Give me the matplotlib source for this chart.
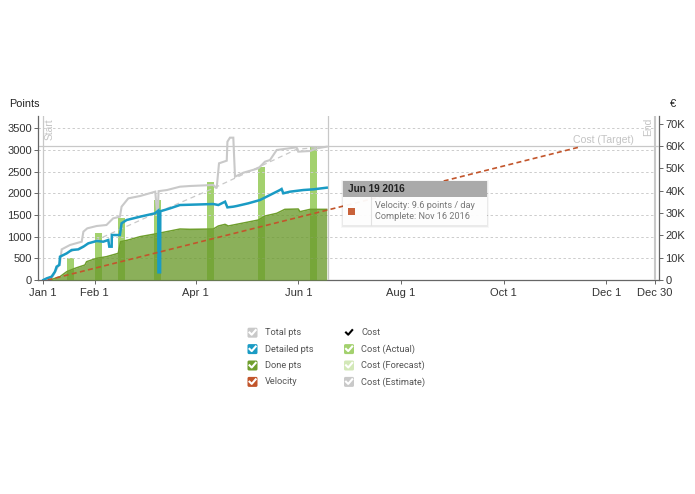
import matplotlib
matplotlib.use("Agg")
import matplotlib.pyplot as plt
from matplotlib.patches import FancyBboxPatch, Rectangle

plt.rcParams["font.family"] = ["Liberation Sans", "DejaVu Sans"]

# x values are days since Jan 1 2016
total_days = [3, 6, 9, 10.4, 11.4, 16.3, 23.3, 24.3, 26.6, 32.2, 38, 40, 42, 46, 47, 51, 58, 67, 68, 68.5, 69, 74,
              81.7, 87.7, 101.5, 103.5, 104.9, 109.5, 109.9, 111.4, 113.4, 114.4, 119.4, 128.3, 132.2, 135.2,
              139.2, 151, 152, 159, 163, 168.9]
total_pts = [0, 77, 300, 400, 707, 807, 884, 1115, 1192, 1246, 1269, 1346, 1423, 1461, 1692, 1884, 1938, 2038, 1600,
             1600, 2050, 2076, 2153, 2169, 2192, 2115, 2692, 2753, 3191, 3284, 3284, 2384, 2476, 2576, 2730, 2768,
             3000, 3061, 2961, 2976, 3038, 3076]

detailed_days = [0.5, 2.5, 5.4, 7.4, 8.4, 10, 10.4, 14.4, 17.3, 21.3, 24.3, 27.2, 32.2, 36.1, 39.1, 39.7, 41.1, 41.2,
                 46, 47, 50, 58, 66.8, 68.8, 68.9, 69.9, 70, 75.8, 81.7, 101.5, 104.5, 108.5, 109.9, 113.4, 115.4,
                 122.3, 129.3, 135.2, 141.1, 142.1, 143.1, 147.1, 155, 161, 168.9]
detailed_pts = [0, 38, 77, 192, 308, 346, 538, 615, 692, 707, 769, 846, 900, 884, 923, 769, 769, 1038, 1038, 1308,
                1384, 1461, 1538, 1600, 177, 177, 1585, 1653, 1730, 1753, 1730, 1807, 1676, 1692, 1707, 1769, 1846,
                1961, 2076, 2100, 2000, 2038, 2076, 2092, 2130]

done_days = [4.5, 10.4, 14.4, 19.3, 25.2, 26.2, 32.2, 38, 45, 46.4, 51, 58, 66.8, 73.8, 81.7, 87.7, 101.5, 104.5,
             108.5, 110.4, 121.3, 128.3, 132.2, 139.2, 144, 152, 153, 159, 168.9]
done_pts = [0, 77, 192, 269, 346, 423, 500, 538, 615, 884, 923, 1000, 1061, 1115, 1176, 1169, 1176, 1246, 1284, 1246,
            1330, 1384, 1476, 1538, 1630, 1638, 1576, 1630, 1630]

velocity_days = [3, 320]
velocity_pts = [0, 3076]

estimate_days = [12, 68, 101.5, 151, 168.9]
estimate_pts = [570, 1553, 2115, 3015, 3076]

cost_days = [16.5, 33.4, 47.2, 68.2, 100, 130.2, 161]
cost_actual = [9700, 20900, 27600, 35800, 43700, 50700, 59700]
cost_target = 60000

today = 169.5
end_day = 364

date_ticks = [0, 31, 91, 152, 213, 274, 335, 364]
date_labels = ["Jan 1", "Feb 1", "Apr 1", "Jun 1", "Aug 1", "Oct 1", "Dec 1", "Dec 30"]
pts_ticks = [0, 500, 1000, 1500, 2000, 2500, 3000, 3500]
cost_ticks = [0, 10000, 20000, 30000, 40000, 50000, 60000, 70000]
cost_labels = ["0", "10K", "20K", "30K", "40K", "50K", "60K", "70K"]

legend_left = [("Total pts", "#c9c9c9"), ("Detailed pts", "#1a9bc4"), ("Done pts", "#6f9e2d"), ("Velocity", "#c2552b")]
legend_right = [("Cost", "#000000"), ("Cost (Actual)", "#a3d16e"), ("Cost (Forecast)", "#d3e8b8"),
                ("Cost (Estimate)", "#c9c9c9")]

W, H = 695, 494
AXIS = "#666666"
TEXT = "#333333"

fig = plt.figure(figsize=(W / 100, H / 100), dpi=100)
ax_cost = fig.add_axes([38.3 / W, 1 - 280 / H, (659 - 38.3) / W, 164 / H])
ax_pts = ax_cost.twinx()

ax_cost.set_xlim(-2.5, 366.4)
ax_pts.set_ylim(0, 3784)
ax_cost.set_ylim(0, 73400)

# cost bars sit under the done area, so the overlap comes out darker
ax_cost.bar(cost_days, cost_actual, width=4.2, color="#a3d16e", zorder=2)
ax_cost.axhline(cost_target, color="#c8c8c8", lw=0.9, zorder=3)
ax_cost.axvline(0, color="#c8c8c8", lw=0.9, zorder=3)
ax_cost.axvline(end_day, color="#c8c8c8", lw=1.5, zorder=3)
ax_cost.axvline(today, color="#c8c8c8", lw=0.9, zorder=3)

for v in pts_ticks[1:]:
    ax_pts.plot([-2.5, end_day], [v, v], color="#cccccc", lw=0.7, ls=(0, (2.5, 2.5)), zorder=1)

ax_pts.fill_between(done_days, done_pts, color="#6a9a2b", alpha=0.78, lw=0, zorder=2)
ax_pts.plot(estimate_days, estimate_pts, color="#c9c9c9", lw=0.9, ls=(0, (4, 3)), zorder=3)
ax_pts.plot(total_days, total_pts, color="#c9c9c9", lw=1.5, zorder=4, solid_joinstyle="miter")
ax_pts.plot(done_days, done_pts, color="#6f9e2d", lw=1.1, zorder=4)
ax_pts.plot(detailed_days, detailed_pts, color="#1a9bc4", lw=1.8, zorder=5, solid_joinstyle="miter")
ax_pts.plot(velocity_days, velocity_pts, color="#c2552b", lw=1.2, ls=(0, (3, 2)), zorder=6)

ax_cost.set_xticks(date_ticks, date_labels)
ax_pts.set_yticks(pts_ticks)
ax_cost.yaxis.tick_right()
ax_cost.set_yticks(cost_ticks, cost_labels)
ax_pts.yaxis.tick_left()

ax_cost.tick_params(axis="x", length=3, width=0.7, color=AXIS, labelsize=8, labelcolor=TEXT, pad=3)
ax_cost.tick_params(axis="y", length=3, width=0.7, color=AXIS, labelsize=8, labelcolor=TEXT, pad=1.5)
ax_pts.tick_params(axis="y", length=3, width=0.7, color=AXIS, labelsize=8, labelcolor=TEXT, pad=1.5)

ax_cost.spines["top"].set_visible(False)
ax_cost.spines["left"].set_visible(False)
ax_pts.spines["top"].set_visible(False)
ax_pts.spines["right"].set_visible(False)
ax_pts.spines["bottom"].set_visible(False)
for s in (ax_cost.spines["right"], ax_cost.spines["bottom"], ax_pts.spines["left"]):
    s.set_color(AXIS)
    s.set_linewidth(0.9)

# overlay in pixel coordinates for labels, tooltip and the checkbox legend
ov = fig.add_axes([0, 0, 1, 1], zorder=10)
ov.set_xlim(0, W)
ov.set_ylim(H, 0)
ov.axis("off")

ov.text(9, 104, "Points", fontsize=7.8, color="#222222", va="center", ha="left")
ov.text(673, 104, "€", fontsize=8, color="#222222", va="center", ha="center")
ov.text(49.5, 129, "Start", fontsize=7.4, color="#c4c4c4", rotation=90, va="center", ha="center")
ov.text(648, 127, "End", fontsize=7.4, color="#c4c4c4", rotation=90, va="center", ha="center")
ov.text(603, 140, "Cost (Target)", fontsize=7.6, color="#c4c4c4", va="center", ha="center")

# tooltip
for grow, a in ((2, 0.03), (1, 0.05)):
    ov.add_patch(Rectangle((343 - grow, 181 - grow + 1), 144 + 2 * grow, 44 + 2 * grow, fc="#000000", alpha=a, lw=0))
ov.add_patch(Rectangle((343, 197), 144, 28, fc="white", alpha=0.95, lw=0))
ov.add_patch(Rectangle((343, 181), 144, 16, fc="#aaaaaa", lw=0))
ov.plot([370.5, 370.5], [197, 225], color="#e2e2e2", lw=0.8)
ov.add_patch(Rectangle((347.5, 207.5), 7, 7, fc="#c8623a", lw=0))
ov.text(347.5, 189, "Jun 19 2016", fontsize=7.2, fontweight="bold", color="#222222", va="center", ha="left")
ov.text(375, 205, "Velocity: 9.6 points / day", fontsize=6.6, color="#777777", va="center", ha="left", family="Roboto")
ov.text(375, 216.5, "Complete: Nov 16 2016", fontsize=6.6, color="#777777", va="center", ha="left", family="Roboto")


def legend_item(x, y, label, color):
    if color != "#000000":
        ov.add_patch(FancyBboxPatch((x - 3.5, y - 3.5), 7, 7, boxstyle="round,pad=1.5,rounding_size=1.5",
                                    fc=color, lw=0))
        check = "white"
    else:
        check = color
    ov.plot([x - 3, x - 0.8, x + 3.2], [y - 0.2, y + 2, y - 2.6], color=check, lw=1.5)
    ov.text(x + 12.2, y, label, fontsize=6.7, color="#555555", va="center", ha="left", family="Roboto")


for i, (label, color) in enumerate(legend_left):
    legend_item(252.5, 332.7 + i * 16.4, label, color)
for i, (label, color) in enumerate(legend_right):
    legend_item(349, 332.7 + i * 16.4, label, color)

fig.savefig("out.png", dpi=100)
